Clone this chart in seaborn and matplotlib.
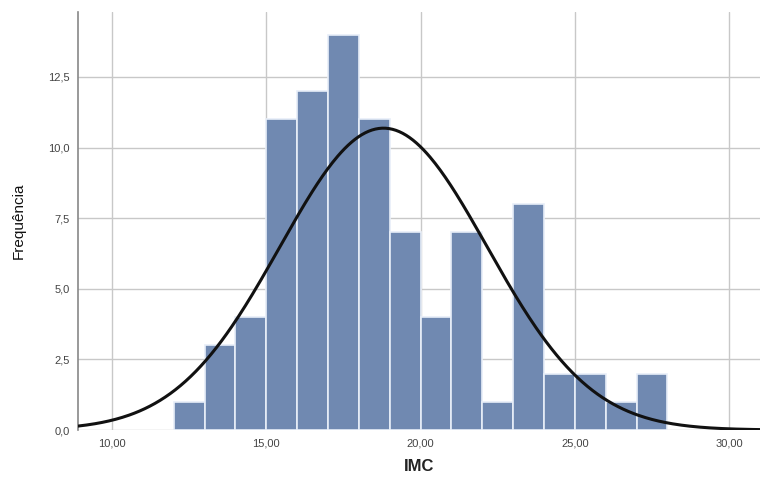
import numpy as np
import pandas as pd
import matplotlib
matplotlib.use("Agg")
import matplotlib.pyplot as plt
import seaborn as sns

# histogram bins (IMC) and frequencies
bin_left = [12, 13, 14, 15, 16, 17, 18, 19, 20, 21, 22, 23, 24, 25, 26, 27]
freq = [1, 3, 4, 11, 12, 14, 11, 7, 4, 7, 1, 8, 2, 2, 1, 2]

# fitted normal curve parameters
imc_mean = 18.8
imc_sd = 3.36

x_ticks = [10, 15, 20, 25, 30]
y_ticks = [0, 2.5, 5, 7.5, 10, 12.5]

BAR_COLOR = "#7089b1"


def fmt_comma(v, decimals):
    return f"{v:.{decimals}f}".replace(".", ",")


def plot_histogram():
    sns.set_theme(style="whitegrid")
    plt.rcParams["font.family"] = ["Liberation Sans", "DejaVu Sans"]

    df = pd.DataFrame({"IMC": np.array(bin_left) + 0.5, "Frequência": freq})
    bins = bin_left + [bin_left[-1] + 1]

    fig = plt.figure(figsize=(7.6, 4.78), dpi=100)
    ax = fig.add_axes([0.1026, 0.1004, 0.8974, 0.8746])

    sns.histplot(data=df, x="IMC", weights="Frequência", bins=bins,
                 color=BAR_COLOR, alpha=1, edgecolor="#e8eef8", linewidth=1.2,
                 ax=ax, zorder=2)

    # normal curve scaled to counts (N * bin width)
    n = sum(freq)
    xs = np.linspace(8.9, 31.0, 400)
    ys = n * 1.0 / (imc_sd * np.sqrt(2 * np.pi)) * np.exp(-0.5 * ((xs - imc_mean) / imc_sd) ** 2)
    sns.lineplot(x=xs, y=ys, color="#111111", linewidth=2.2, ax=ax, zorder=3)

    ax.set_xlim(8.9, 31.0)
    ax.set_ylim(0, 14.8)
    ax.set_xticks(x_ticks)
    ax.set_xticklabels([fmt_comma(v, 2) for v in x_ticks])
    ax.set_yticks(y_ticks)
    ax.set_yticklabels([fmt_comma(v, 1) for v in y_ticks])
    ax.tick_params(axis="both", length=0, labelsize=8, colors="#444444", pad=6)

    ax.grid(True, color="#c8c8c8", linewidth=1.0)
    ax.set_axisbelow(True)
    for side in ["top", "right", "bottom"]:
        ax.spines[side].set_visible(False)
    ax.spines["left"].set_color("#888888")
    ax.spines["left"].set_linewidth(1.2)

    ax.set_xlabel("IMC", fontsize=12, fontweight="bold", color="#222222", labelpad=8)
    ax.set_ylabel("Frequência", fontsize=11, color="#111111", labelpad=16)

    fig.savefig("out.png", dpi=100)


if __name__ == "__main__":
    plot_histogram()
